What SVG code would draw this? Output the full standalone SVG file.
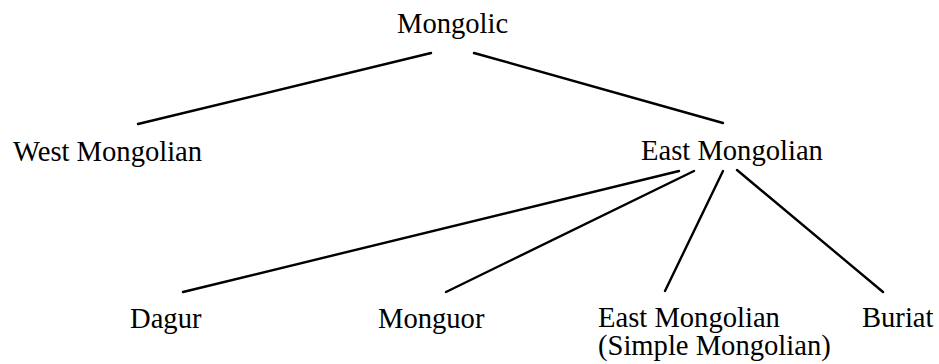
<svg xmlns="http://www.w3.org/2000/svg" width="939" height="364" viewBox="0 0 939 364">
<style>
.t{font-family:"Liberation Serif","Times New Roman",serif;font-size:28.6px;fill:#000}
.c line{stroke:#000;stroke-width:2.4;stroke-linecap:round}
</style>
<rect width="939" height="364" fill="#fff"/>
<g class="c" id="connectors">
<line x1="431" y1="53" x2="138" y2="124"/>
<line x1="474" y1="53" x2="723" y2="123"/>
<line x1="679" y1="171" x2="183" y2="292"/>
<line x1="694" y1="171" x2="446" y2="292"/>
<line x1="723" y1="171" x2="665" y2="291"/>
<line x1="737" y1="170" x2="883" y2="292"/>
</g>
<g id="mongolic"><text class="t" x="397" y="33">Mongolic</text></g>
<g id="west-mongolian"><text class="t" x="13" y="161">West Mongolian</text></g>
<g id="east-mongolian"><text class="t" x="641" y="160">East Mongolian</text></g>
<g id="dagur"><text class="t" x="130" y="328">Dagur</text></g>
<g id="monguor"><text class="t" x="378" y="328">Monguor</text></g>
<g id="east-mongolian-simple"><text class="t" x="598" y="327">East Mongolian</text><text class="t" x="598" y="355">(Simple Mongolian)</text></g>
<g id="buriat"><text class="t" x="862" y="327">Buriat</text></g>
</svg>
